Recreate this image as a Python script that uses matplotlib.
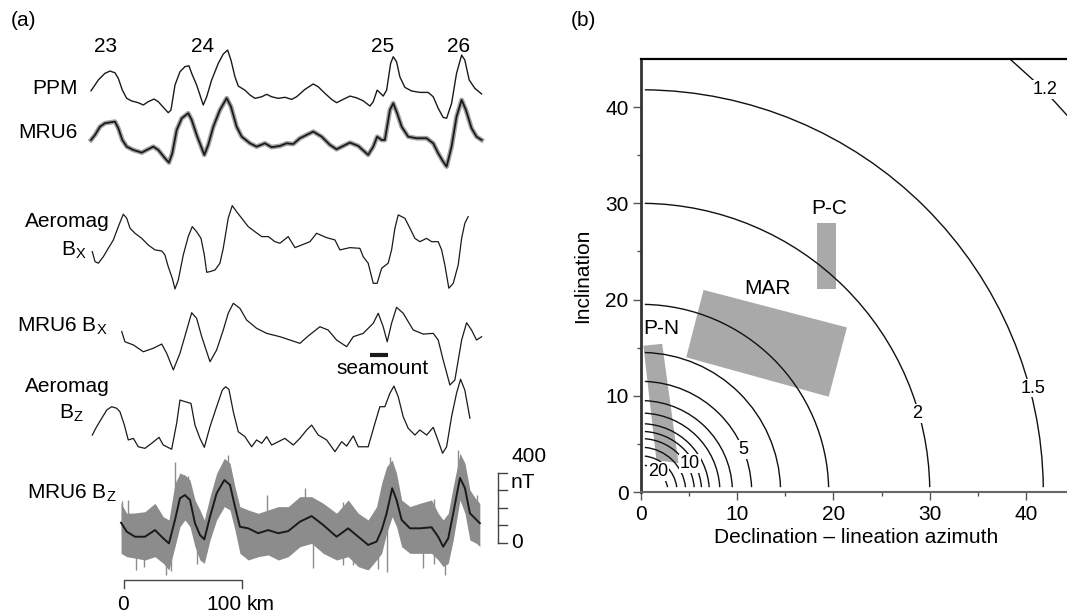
import math
import matplotlib
matplotlib.use("Agg")
import matplotlib.pyplot as plt
from matplotlib.patches import Arc, Polygon

plt.rcParams['font.family'] = ['Liberation Sans', 'DejaVu Sans']
plt.rcParams['mathtext.fontset'] = 'custom'
plt.rcParams['mathtext.rm'] = 'Liberation Sans'

# ---------------- panel (a): magnetic anomaly profiles (distance in km, anomaly in nT)
ppm_km = [-27.9, -21.7, -16.1, -11.8, -7.6, -4.8, -1.4, 2.3, 6.5, 12.1,
          16.3, 20.5, 25.4, 29.0, 33.2, 37.4, 39.7, 43.1, 47.3, 51.5,
          54.9, 57.2, 61.4, 64.2, 67.0, 69.9, 74.1, 79.7, 83.9, 87.6,
          90.4, 93.8, 96.6, 102.2, 106.5, 110.7, 116.4, 120.6, 124.8, 130.4,
          136.0, 141.7, 145.9, 152.9, 160.0, 164.2, 169.8, 175.5, 179.7, 185.3,
          191.0, 196.6, 202.2, 207.9, 210.7, 214.0, 216.3, 219.1, 222.0, 225.4,
          227.6, 230.4, 233.2, 237.4, 243.1, 250.1, 257.1, 261.4, 265.6, 269.8,
          272.7, 276.9, 281.1, 285.4, 288.1, 291.8, 296.6, 302.3]
ppm_nt = [167, 229, 267, 280, 270, 238, 171, 124, 109, 99,
          86, 105, 120, 105, 73, 42, 57, 200, 276, 305,
          310, 267, 200, 143, 86, 133, 229, 324, 377, 400,
          343, 247, 194, 171, 143, 124, 133, 147, 133, 124,
          130, 118, 133, 175, 206, 190, 153, 118, 99, 118,
          137, 127, 110, 80, 105, 171, 156, 137, 171, 324,
          362, 333, 247, 187, 166, 158, 158, 133, 67, 15,
          10, 95, 267, 371, 343, 229, 181, 149]

mru6_km = [-27.9, -24.5, -20.3, -16.1, -7.6, -4.8, -1.4, 2.3, 7.9, 15.0,
           19.2, 24.8, 29.0, 34.6, 38.0, 40.8, 44.5, 48.8, 54.3, 57.2,
           61.4, 65.7, 67.9, 71.2, 75.5, 81.1, 86.8, 90.4, 95.2, 99.5,
           106.5, 112.1, 119.1, 124.8, 131.8, 137.5, 143.1, 148.7, 160.0, 167.1,
           174.1, 179.7, 185.3, 191.0, 198.0, 206.4, 210.7, 214.0, 217.8, 220.5,
           224.8, 227.6, 230.9, 234.7, 240.2, 247.3, 255.8, 261.4, 265.6, 269.8,
           272.7, 276.9, 281.1, 285.4, 289.0, 293.8, 298.0, 302.3]
mru6_nt = [154, 183, 230, 250, 259, 221, 154, 116, 97, 82,
           97, 116, 97, 50, 25, 78, 211, 278, 307, 269,
           183, 107, 69, 126, 230, 326, 393, 345, 230, 173,
           135, 116, 135, 113, 120, 135, 131, 164, 202, 173,
           126, 101, 120, 139, 120, 69, 116, 173, 154, 154,
           326, 364, 307, 230, 173, 164, 164, 135, 78, 30,
           2, 116, 287, 383, 326, 221, 173, 154]

aero_bx_km = [-26.8, -24.5, -21.7, -17.5, -13.3, -9.0, -4.8, -0.6, 2.3, 5.1,
              9.3, 15.0, 20.5, 26.2, 31.9, 34.6, 37.4, 40.8, 43.1, 45.9,
              50.1, 54.3, 57.7, 61.4, 65.1, 67.9, 69.9, 72.7, 76.9, 81.1,
              83.9, 88.1, 91.5, 95.2, 99.5, 105.0, 110.7, 116.4, 122.0, 127.6,
              131.8, 138.8, 144.5, 150.2, 157.2, 162.8, 171.3, 178.3, 182.5, 191.0,
              199.4, 202.2, 206.4, 210.7, 214.0, 217.8, 223.3, 226.2, 229.0, 231.8,
              237.4, 241.7, 245.9, 250.1, 255.8, 260.0, 265.6, 268.5, 271.2, 274.6,
              278.3, 282.5, 285.4, 288.1, 290.9]
aero_bx_nt = [219, 162, 153, 190, 238, 286, 362, 433, 410, 353,
              324, 295, 257, 229, 223, 200, 133, 67, 6, 57,
              200, 305, 362, 333, 295, 200, 101, 105, 114, 153,
              238, 410, 482, 447, 410, 362, 333, 305, 305, 276,
              267, 305, 242, 257, 276, 324, 299, 286, 229, 242,
              238, 190, 153, 38, 38, 124, 153, 229, 353, 429,
              410, 353, 295, 276, 295, 276, 276, 229, 143, 10,
              38, 143, 295, 381, 419]

mru6_bx_km = [-1.9, 0.8, 7.9, 16.3, 24.8, 31.9, 36.1, 41.7, 47.3, 53.0,
              57.2, 61.4, 65.7, 72.7, 78.3, 83.9, 88.1, 92.4, 98.0, 103.7,
              112.1, 120.6, 131.8, 140.3, 148.7, 155.7, 165.6, 172.6, 179.7, 188.2,
              193.8, 202.2, 210.7, 214.9, 219.1, 222.5, 226.2, 230.4, 236.0, 244.5,
              253.0, 261.4, 265.6, 269.8, 275.5, 279.7, 285.4, 289.6, 293.8, 298.0,
              302.3]
mru6_bx_nt = [305, 247, 229, 190, 210, 234, 181, 86, 181, 314,
              413, 381, 276, 133, 200, 314, 410, 467, 438, 371,
              324, 295, 276, 257, 238, 280, 333, 314, 257, 219,
              276, 295, 353, 410, 333, 247, 353, 444, 410, 314,
              291, 295, 257, 143, 0, 29, 257, 356, 314, 257,
              276]

aero_bz_km = [-26.8, -23.1, -18.8, -14.6, -10.4, -6.2, -3.4, 0.3, 3.6, 7.9,
              12.1, 17.7, 23.4, 29.6, 33.2, 40.3, 44.5, 47.3, 51.5, 56.6,
              60.0, 64.2, 67.9, 72.7, 78.3, 83.1, 85.9, 88.7, 92.4, 96.6,
              102.2, 107.9, 112.1, 116.4, 120.6, 124.8, 130.4, 136.0, 143.1, 148.7,
              154.4, 158.6, 164.2, 171.3, 178.3, 184.0, 188.2, 193.8, 198.0, 206.4,
              212.1, 216.3, 220.5, 224.8, 228.2, 231.8, 236.0, 240.2, 245.9, 250.1,
              255.8, 261.4, 264.3, 269.3, 272.7, 276.9, 281.1, 284.5, 288.1, 292.4]
aero_bz_nt = [114, 162, 210, 257, 276, 267, 247, 171, 86, 95,
              47, 38, 67, 101, 57, 33, 181, 314, 305, 295,
              171, 95, 44, 162, 276, 371, 390, 375, 247, 133,
              105, 47, 86, 67, 105, 57, 76, 95, 57, 95,
              143, 171, 114, 86, 19, 76, 51, 109, 47, 47,
              181, 276, 276, 353, 394, 333, 219, 153, 114, 143,
              114, 158, 105, 10, 47, 219, 353, 433, 371, 210]

mru6_bz_km = [-2.5, 2.3, 9.3, 17.7, 26.2, 33.2, 38.0, 43.1, 47.3, 51.5,
              55.8, 60.0, 64.2, 67.9, 72.7, 78.3, 84.8, 89.6, 93.8, 98.0,
              105.0, 113.5, 121.9, 130.4, 138.8, 148.7, 158.6, 168.4, 179.7, 189.5,
              198.0, 206.4, 213.5, 217.8, 222.0, 226.7, 230.4, 234.7, 241.7, 250.1,
              260.0, 265.6, 269.8, 274.1, 278.3, 284.0, 288.2, 292.4, 298.0, 300.8]
mru6_bz_nt = [113, 62, 33, 33, 71, 24, -5, 129, 253, 271,
              243, 110, 43, 18, 147, 281, 357, 329, 205, 90,
              81, 53, 71, 53, 65, 119, 151, 100, 33, 81,
              33, -14, 5, 71, 167, 310, 243, 129, 81, 81,
              87, 33, -24, 24, 167, 369, 311, 167, 129, 110]
# upper / lower limits of the raw (unfiltered) MRU6 Bz record
mru6_bz_hi = [224, 167, 169, 176, 224, 147, 129, 338, 395, 386,
              357, 243, 186, 129, 262, 395, 481, 453, 319, 205,
              186, 167, 186, 205, 205, 262, 262, 224, 167, 243,
              167, 129, 205, 338, 433, 471, 395, 243, 205, 224,
              243, 167, 129, 167, 319, 510, 453, 300, 243, 224]
mru6_bz_lo = [-62, -81, -89, -100, -81, -119, -157, -24, 90, 129,
              90, -24, -100, -119, 14, 129, 205, 186, 71, -62,
              -100, -81, -71, -100, -81, -24, -5, -62, -100, -81,
              -138, -157, -100, -62, 53, 147, 90, -24, -62, -62,
              -62, -100, -138, -119, 14, 243, 167, 14, -5, -24]
# isolated noise spikes in the raw Bz record
spike_km = [-2.0, 3.4, 10.1, 17.0, 35.5, 40.0, 43.1, 47.0, 54.0, 62.0,
            87.9, 92.0, 120.8, 152.9, 159.7, 185.0, 193.5, 215.0, 222.0, 224.8,
            252.7, 262.0, 271.2, 282.2, 290.0, 298.3]
spike_lo = [60, 100, -157, -140, -186, -160, 250, 200, 150, -120,
            350, 150, 100, 150, -146, -130, -129, -150, -169, 300,
            -146, -120, -186, 370, 150, 150]
spike_hi = [240, 243, -50, -40, 0, -40, 460, 400, 380, 20,
            500, 330, 271, 311, 50, 230, 50, 0, 100, 489,
            0, 250, -50, 529, 330, 271]

chron_labels = ['23', '24', '25', '26']

# ---------------- panel (b): amplitude-factor contours and study regions
contour_radius = [2.8, 3.75, 4.65, 5.55, 6.3, 7.1, 8.2, 9.5, 11.5, 14.5, 19.5, 30.0, 41.8, 59.1]
contour_text = ['20', '10', '5', '2', '1.5', '1.2']
contour_text_xy = [(1.8, 2.1), (5.1, 3.0), (10.6, 4.4), (28.7, 8.2), (40.7, 10.8), (42.0, 41.8)]

region_names = ['P-N', 'MAR', 'P-C']
region_corners = [
    [(0.25, 15.2), (2.2, 15.4), (3.9, 3.0), (1.6, 3.3)],
    [(6.5, 21.0), (21.4, 17.1), (19.5, 9.9), (4.7, 14.0)],
    [(18.3, 28.0), (20.3, 28.0), (20.3, 21.1), (18.3, 21.1)],
]
region_text_xy = [(2.15, 17.0), (13.1, 21.2), (19.6, 29.5)]

# ------------------------------------------------------------------ figure
W, H = 1067, 616
fig = plt.figure(figsize=(W / 100, H / 100), dpi=100)


def fxy(x, y):
    return x / W, 1 - y / H


KM_PER_PX = 100 / 118.3
NT_PER_PX = 400 / 70.0

ax = fig.add_axes([0, 0, 560 / W, 1])
ax.set_xlim(-124 * KM_PER_PX, (560 - 124) * KM_PER_PX)
ax.set_ylim(0, H * NT_PER_PX)
ax.axis('off')

# vertical position (nT) of each trace's zero level
trace_offsets = [2834, 2566, 1863, 1320, 920, 420]


def shift(vals, off):
    return [v + off for v in vals]


ax.plot(ppm_km, shift(ppm_nt, trace_offsets[0]), color='#1a1a1a', lw=1.0)
ax.plot(mru6_km, shift(mru6_nt, trace_offsets[1]), color='#a3a3a3', lw=3.4,
        solid_joinstyle='round')
ax.plot(mru6_km, shift(mru6_nt, trace_offsets[1]), color='#1a1a1a', lw=1.3)
ax.plot(aero_bx_km, shift(aero_bx_nt, trace_offsets[2]), color='#1a1a1a', lw=0.9)
ax.plot(mru6_bx_km, shift(mru6_bx_nt, trace_offsets[3]), color='#1a1a1a', lw=0.9)
ax.plot(aero_bz_km, shift(aero_bz_nt, trace_offsets[4]), color='#1a1a1a', lw=0.9)

ax.fill_between(mru6_bz_km, shift(mru6_bz_lo, trace_offsets[5]),
                shift(mru6_bz_hi, trace_offsets[5]), color='#8c8c8c', lw=0)
ax.vlines(spike_km, shift(spike_lo, trace_offsets[5]), shift(spike_hi, trace_offsets[5]),
          color='#8c8c8c', lw=1.0)
ax.plot(mru6_bz_km, shift(mru6_bz_nt, trace_offsets[5]), color='#1a1a1a', lw=1.4)

# seamount marker
ax.plot([207.9, 223.1], [trace_offsets[3] + 174] * 2, color='#1a1a1a', lw=3,
        solid_capstyle='butt')

# horizontal distance scale (0-100 km)
ax.plot([0, 0, 100, 100], [160, 206, 206, 160], color='#444444', lw=1.0)
# vertical amplitude scale (0-400 nT)
bar_x0, bar_x1 = 316.3, 323.4
ax.plot([bar_x0, bar_x0], [trace_offsets[5], trace_offsets[5] + 400], color='#444444', lw=1.0)
for v in [0, 100, 200, 300, 400]:
    ax.plot([bar_x0, bar_x1], [trace_offsets[5] + v] * 2, color='#444444', lw=1.0)

FS = 15
fig.text(*fxy(11, 20), '(a)', ha='left', va='center', fontsize=FS)
for lab, xc in zip(chron_labels, [106, 202.5, 382.5, 458.5]):
    fig.text(*fxy(xc, 47), lab, ha='center', va='center', fontsize=FS)
fig.text(*fxy(78, 88), 'PPM', ha='right', va='center', fontsize=FS)
fig.text(*fxy(78, 133), 'MRU6', ha='right', va='center', fontsize=FS)
fig.text(*fxy(67.5, 221), 'Aeromag', ha='center', va='center', fontsize=FS)
fig.text(*fxy(74, 250), r'B$_{\mathregular{X}}$', ha='center', va='center', fontsize=FS)
fig.text(*fxy(108, 326), r'MRU6 B$_{\mathregular{X}}$', ha='right', va='center', fontsize=FS)
fig.text(*fxy(382.5, 369), 'seamount', ha='center', va='center', fontsize=FS)
fig.text(*fxy(67.5, 386), 'Aeromag', ha='center', va='center', fontsize=FS)
fig.text(*fxy(71, 413), r'B$_{\mathregular{Z}}$', ha='center', va='center', fontsize=FS)
fig.text(*fxy(117, 493), r'MRU6 B$_{\mathregular{Z}}$', ha='right', va='center', fontsize=FS)
fig.text(*fxy(123, 605), '0', ha='center', va='center', fontsize=FS)
fig.text(*fxy(242, 605), '100', ha='right', va='center', fontsize=FS)
fig.text(*fxy(247, 605), 'km', ha='left', va='center', fontsize=FS)
fig.text(*fxy(511, 457), '400', ha='left', va='center', fontsize=FS)
fig.text(*fxy(511, 482), 'nT', ha='left', va='center', fontsize=FS)
fig.text(*fxy(511, 542), '0', ha='left', va='center', fontsize=FS)

# ---------------- panel (b)
bx = fig.add_axes([641 / W, 1 - 492 / H, 426 / W, 433 / H])
bx.set_xlim(0, 44.26)
bx.set_ylim(0, 45)

for corners in region_corners:
    bx.add_patch(Polygon(corners, closed=True, facecolor='#a9a9a9', edgecolor='none', zorder=1))
for name, (tx, ty) in zip(region_names, region_text_xy):
    bx.text(tx, ty, name, ha='center', va='center', fontsize=FS, zorder=4)

for r in contour_radius:
    t1 = math.degrees(math.asin(min(0.5 / r, 1)))
    t2 = math.degrees(math.acos(min(0.4 / r, 1)))
    bx.add_patch(Arc((0, 0), 2 * r, 2 * r, theta1=t1, theta2=t2, color='#111111',
                     lw=1.0, zorder=2))
for txt, (tx, ty) in zip(contour_text, contour_text_xy):
    bx.text(tx, ty, txt, ha='center', va='center', fontsize=13, zorder=3,
            bbox=dict(facecolor='white', edgecolor='none', pad=0.6))

bx.spines['right'].set_visible(False)
bx.spines['top'].set_color('black')
bx.spines['top'].set_linewidth(1.6)
bx.spines['left'].set_color('#333333')
bx.spines['left'].set_linewidth(2.0)
bx.spines['bottom'].set_color('#666666')
bx.spines['bottom'].set_linewidth(1.5)
bx.set_xticks([0, 10, 20, 30, 40])
bx.set_yticks([0, 10, 20, 30, 40])
bx.set_xticks([5, 15, 25, 35], minor=True)
bx.set_yticks([5, 15, 25, 35], minor=True)
bx.tick_params(which='major', direction='out', length=6, width=1.0, color='#555555',
               labelsize=FS, pad=3)
bx.tick_params(which='minor', direction='out', length=3, width=1.0, color='#555555')
bx.set_xlabel('Declination \u2013 lineation azimuth', fontsize=FS)
bx.set_ylabel('Inclination', fontsize=FS)
bx.xaxis.set_label_coords(0.504, -0.082)
bx.yaxis.set_label_coords(-0.115, 0.5)

fig.text(*fxy(571, 20), '(b)', ha='left', va='center', fontsize=FS)

fig.savefig('out.png', dpi=100)
